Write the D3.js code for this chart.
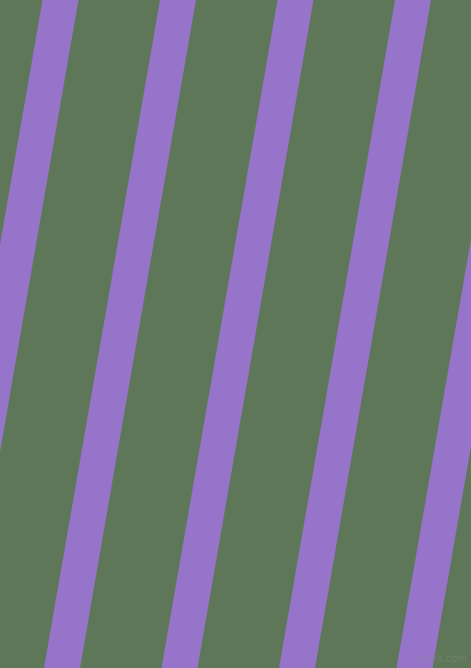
<!DOCTYPE html>
<html>
<head>
<meta charset="utf-8">
<script src="https://cdn.jsdelivr.net/npm/d3@7"></script>
<style>
  html, body { margin: 0; padding: 0; overflow: hidden; }
</style>
</head>
<body>
<div id="chart"></div>
<script>
const W = 471, H = 668;

// stripe left edges where they cross the top of the picture
const stripeStarts = [-75, 42.5, 160, 277.5, 395, 512.5];
const stripeWidth = 36;
const drift = -116; // horizontal shift from top to bottom

const bgColor = "#5f7759";
const stripeColor = "#9574c9";

const x = d3.scaleLinear().domain([0, W]).range([0, W]);
const y = d3.scaleLinear().domain([0, 1]).range([0, H]);

const svg = d3.select("#chart").append("svg")
  .attr("width", W)
  .attr("height", H);

svg.append("rect")
  .attr("width", W)
  .attr("height", H)
  .attr("fill", bgColor);

const stripePath = s => {
  const pts = [
    [x(s), y(0)],
    [x(s + stripeWidth), y(0)],
    [x(s + stripeWidth + drift), y(1)],
    [x(s + drift), y(1)]
  ];
  return d3.line()(pts) + "Z";
};

svg.selectAll("path.stripe")
  .data(stripeStarts)
  .enter()
  .append("path")
  .attr("class", "stripe")
  .attr("d", stripePath)
  .attr("fill", stripeColor);

svg.append("text")
  .attr("x", 467)
  .attr("y", 662)
  .attr("text-anchor", "end")
  .style("font-family", "DejaVu Sans, sans-serif")
  .style("font-size", "10px")
  .attr("fill", "#8a8a8a")
  .attr("fill-opacity", 0.45)
  .text("pixlis.com");
</script>
</body>
</html>
